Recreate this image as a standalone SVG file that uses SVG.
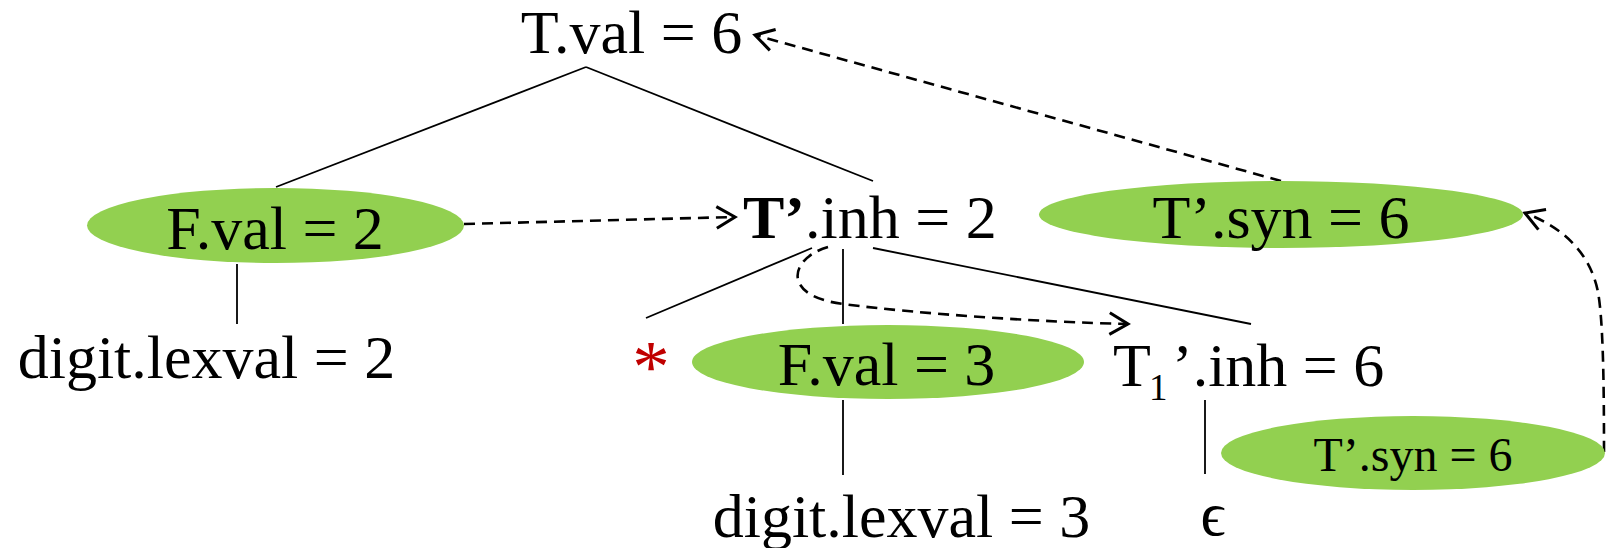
<svg xmlns="http://www.w3.org/2000/svg" width="1612" height="548" viewBox="0 0 1612 548">
  <style>
    .lbl { font-family: "Liberation Serif", "Times New Roman", serif; font-size: 62px; fill: #000; }
    .attr { fill: #92d050; }
    .edge { stroke: #000; stroke-width: 1.8; fill: none; }
    .dep { stroke: #000; stroke-width: 2.6; fill: none; stroke-dasharray: 11 7; marker-end: url(#open); }
  </style>
  <defs>
    <marker id="open" markerUnits="userSpaceOnUse" markerWidth="24" markerHeight="26" viewBox="-2 -12 22 24" refX="17" refY="0" orient="auto">
      <path d="M0,-10 L17,0 L0,10" fill="none" stroke="#000" stroke-width="2.8"/>
    </marker>
  </defs>
  <rect width="1612" height="548" fill="#fff"/>

  <!-- parse tree edges and dependency arrows -->
  <g id="connectors">
    <line class="edge" x1="586" y1="67" x2="276" y2="187"/>
    <line class="edge" x1="586" y1="67" x2="873" y2="181"/>
    <line class="edge" x1="237" y1="264" x2="237" y2="324"/>
    <line class="edge" x1="812" y1="248" x2="646" y2="318"/>
    <line class="edge" x1="843" y1="249" x2="843" y2="324"/>
    <line class="edge" x1="873" y1="248" x2="1251" y2="324"/>
    <line class="edge" x1="843" y1="400" x2="843" y2="475"/>
    <line class="edge" x1="1205" y1="400" x2="1205" y2="474"/>

    <path class="dep" d="M464,224 L735,217"/>
    <path class="dep" d="M1281,181 L755,35"/>
    <path class="dep" d="M828,247 C790,258 780,296 843,304 C920,314 1040,322 1128,324"/>
    <path class="dep" d="M1604,452 C1604,380 1603,320 1598,292 C1590,252 1562,227 1525,213"/>
  </g>

  <g id="t-val">
    <text class="lbl" x="631.5" y="53" text-anchor="middle">T.val = 6</text>
  </g>

  <g id="f-val-2">
    <ellipse class="attr" cx="275.5" cy="225.5" rx="188.5" ry="37.5"/>
    <text class="lbl" x="275" y="249" text-anchor="middle">F.val = 2</text>
  </g>

  <g id="tp-inh-2">
    <text class="lbl" x="743" y="238"><tspan font-weight="bold">T’</tspan>.inh = 2</text>
  </g>

  <g id="tp-syn-6">
    <ellipse class="attr" cx="1281" cy="214.5" rx="242" ry="33.5"/>
    <text class="lbl" x="1281" y="238" text-anchor="middle">T’.syn = 6</text>
  </g>

  <g id="digit-2">
    <text class="lbl" x="206.5" y="378" text-anchor="middle">digit.lexval = 2</text>
  </g>

  <g id="times">
    <text class="lbl" x="651" y="392" text-anchor="middle" style="fill:#c00000;font-size:75px">*</text>
  </g>

  <g id="f-val-3">
    <ellipse class="attr" cx="888" cy="362" rx="196" ry="37"/>
    <text class="lbl" x="886.5" y="385" text-anchor="middle">F.val = 3</text>
  </g>

  <g id="t1-inh-6">
    <text class="lbl" x="1113" y="386">T</text>
    <text class="lbl" x="1149" y="400" style="font-size:37px;fill:#000">1</text>
    <text class="lbl" x="1172" y="386">’.inh = 6</text>
  </g>

  <g id="tp-syn-6-leaf">
    <ellipse class="attr" cx="1413" cy="453" rx="192" ry="37"/>
    <text class="lbl" x="1413" y="471" text-anchor="middle" style="font-size:48px">T’.syn = 6</text>
  </g>

  <g id="digit-3">
    <text class="lbl" x="901.5" y="537" text-anchor="middle">digit.lexval = 3</text>
  </g>

  <g id="epsilon">
    <text class="lbl" x="1213" y="535" text-anchor="middle">ϵ</text>
  </g>
</svg>
